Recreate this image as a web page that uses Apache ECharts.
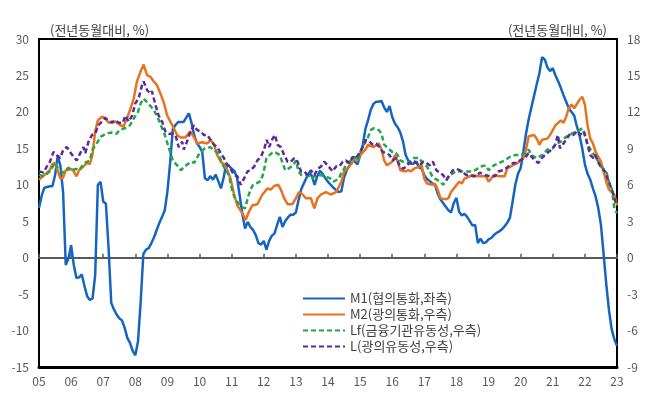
<!DOCTYPE html>
<html><head><meta charset="utf-8">
<script src="https://cdn.jsdelivr.net/npm/echarts/dist/echarts.min.js"></script>
<style>html,body{margin:0;padding:0;background:#fff}#c{width:658px;height:402px}</style>
</head><body><div id="c"></div>
<script>
// x: months since 2005-01 ; tick labels every 12 months
const xLabels = ['05','06','07','08','09','10','11','12','13','14','15','16','17','18','19','20','21','22','23'];
const seriesNames = ['M1(협의통화,좌측)','M2(광의통화,우측)','Lf(금융기관유동성,우측)','L(광의유동성,우측)'];
const unitLabel = '(전년동월대비, %)';

// M1, monthly values (left axis)
const m1 = [6.8,8.5,9.6,9.7,9.8,9.8,11.3,14.0,12.6,9.0,
-1.0,-0.1,1.7,-1.0,-2.8,-2.7,-2.3,-3.9,-5.3,-5.8,
-5.6,-2.4,10.0,10.4,7.7,7.4,1.3,-6.2,-7.1,-7.8,
-8.3,-8.6,-9.6,-11.0,-11.7,-12.8,-13.4,-11.5,-6.0,0.5,
1.1,1.3,2.0,2.8,3.8,4.8,5.6,6.5,9.1,13.0,
17.6,18.2,18.6,18.6,18.6,19.2,19.8,18.5,16.8,15.7,
15.2,14.5,10.9,10.6,11.2,10.7,11.4,10.5,9.5,11.0,
12.9,12.6,12.2,11.9,11.0,8.5,6.0,4.0,4.9,4.2,
3.8,3.1,2.0,1.8,2.3,1.1,2.3,3.0,3.3,4.5,
5.6,4.2,5.0,5.5,5.9,5.9,6.2,7.9,9.4,10.2,
11.0,11.7,11.2,10.0,11.2,11.9,11.5,10.9,10.4,10.0,
9.6,9.3,9.0,9.1,11.0,12.0,12.6,13.4,13.2,12.8,
14.0,15.5,17.7,18.9,20.3,21.1,21.4,21.4,21.5,20.6,
20.0,20.8,19.3,18.4,17.9,17.2,16.0,14.1,13.3,12.9,
12.9,13.2,12.4,12.2,11.3,10.8,10.5,10.2,10.0,8.8,
8.0,7.5,7.0,6.5,6.2,7.5,8.2,6.3,5.8,6.0,
5.6,5.0,4.4,4.5,2.0,2.6,2.0,2.1,2.5,2.7,
3.1,3.4,3.6,3.9,4.3,4.8,5.5,7.7,10.0,11.5,
12.3,14.5,17.0,19.0,20.6,22.2,23.8,25.3,27.5,27.2,
26.1,25.6,26.0,25.0,24.2,23.3,22.3,21.4,20.5,20.0,
19.5,18.0,16.8,15.0,12.8,11.5,10.7,9.5,8.4,6.8,
4.5,0.5,-3.7,-7.2,-9.8,-11.2,-12.1];

// M2 [month, value] (right axis)
const m2 = [[0,6.4],[2,6.8],[4,7.2],[5,7.7],[6,7.8],[8,6.5],[9,6.6],[10,7.2],[12,7.3],[13,7.1],[14,6.7],[15,7.2],[17,7.6],[18,7.8],[19,7.7],[20,8.5],[21,10.4],[22,11.3],[23.5,11.6],[24.7,11.5],[26,11.1],[27.3,11.2],[28.5,11.2],[30.4,10.9],[31.6,10.8],[32.9,11.5],[34.1,12.2],[35.4,13.1],[36.6,14.5],[37.9,15.3],[39.1,15.9],[40.4,15.0],[41.6,14.9],[42.9,14.5],[44.1,14.2],[45.4,13.5],[46.6,12.8],[47.9,11.7],[49.1,11.2],[50.4,10.65],[51.6,10.1],[52.9,9.9],
[54.7,9.9],[56.6,10.4],[57.9,9.9],[59.1,9.4],[61,9.5],[62.9,9.4],[64.1,9.7],[65.4,9.3],[66.6,8.45],[67.9,7.9],[69.7,7.6],[71.6,6.5],[72.9,5.2],[74.1,4.3],[76,3.65],[77.2,3.1],[78.5,3.8],[79.7,4.3],[81.6,4.4],[83.5,5.2],[85.4,5.7],[86.6,5.6],[87.9,5.9],[89.4,6.0],[90.4,5.6],[91.6,4.9],[92.9,4.4],[94.7,4.4],[96,4.9],[97.2,5.4],[98.5,5.2],[99.7,4.9],[101.6,4.9],[102.9,4.05],[104.1,4.9],[105.4,5.2],[107.2,5.4],
[109,5.2],[111,5.4],[113,6.25],[114,7.1],[115,7.3],[117,7.8],[118,8.3],[119,8.0],[120,8.45],[122,8.9],[123,9.3],[124,9.2],[125,9.1],[127,9.4],[128,8.9],[129,8.0],[130,7.6],[132,7.9],[133,8.45],[134,8.0],[135,7.2],[137,7.1],[138,7.2],[139,7.1],[140,7.3],[142,7.5],[143,7.6],[144,6.5],[145,6.1],[147,6.0],[148,6.1],[149,5.6],[150,4.9],[152,4.8],[153,4.9],[154,5.4],[155,5.7],[157,6.25],[158,6.1],[159,6.5],[160,6.6],[162,6.8],
[164,6.7],[167,6.7],[168,6.25],[170,6.8],[172,6.7],[174,6.7],[175,7.35],[177,7.6],[179,7.8],[181,8.2],[182,8.9],[183,10.0],[185,10.1],[186,9.8],[187,9.3],[188,9.7],[190,9.8],[191,10.1],[192,10.5],[193,10.9],[195,11.3],[196,11.1],[197,11.6],[198,12.3],[199,12.6],[200,12.3],[202,13.0],[203,13.25],[204,12.6],[205,10.9],[206,9.8],[207,9.4],[208,8.7],[210,7.9],[211,7.1],[212,6.25],[213,5.6],[215,5.2],[216,4.3]];

// Lf [month, value] (right axis)
const lf = [[0,6.8],[2,6.7],[4,7.1],[6,7.8],[7,7.4],[9,7.0],[10,7.2],[11,7.4],[12,7.2],[14,7.3],[15,7.2],[16,7.5],[17,7.8],[19,8.0],[20,8.9],[22,9.55],[23,9.95],[25,10.2],[27,10.3],[29,10.2],[30,10.5],[32,10.65],[34,10.9],[35,11.3],[37,12.0],[38,12.7],[39,13.1],[40,12.9],[42,12.4],[43,12.1],[44,11.7],[45,11.2],[47,10.1],[48,9.4],[49,8.7],[50,8.0],[52,7.5],[53,7.2],
[55,7.6],[57,7.9],[58,7.8],[60,8.6],[62,9.0],[64,9.1],[65,8.9],[67,8.6],[68,8.0],[69,7.5],[71,6.8],[72,5.7],[73,5.0],[75,4.3],[77,4.05],[78,4.9],[79,5.6],[80,6.0],[82,6.2],[83,6.35],[84,7.1],[85,8.2],[87,8.6],[88,8.7],[90,8.45],[91,7.8],[92,7.2],[93,7.3],[95,7.6],[96,8.0],[97,7.1],[98,6.8],[100,6.8],[101,6.7],[102,6.5],[103,6.7],[105,6.8],[107,6.7],
[109,6.5],[110,6.25],[112,6.5],[113,7.0],[114,7.3],[115,7.8],[117,8.0],[118,8.3],[119,8.0],[120,8.7],[122,9.55],[123,9.95],[124,10.5],[125,10.65],[127,10.5],[128,10.2],[129,9.3],[130,9.1],[132,8.7],[133,8.7],[134,8.45],[135,8.0],[137,7.8],[138,7.8],[139,8.0],[140,8.2],[142,8.2],[143,7.9],[145,7.5],[146,7.1],[147,6.7],[148,6.5],[150,6.25],[151,6.0],[152,6.25],[153,6.7],[155,7.0],[156,7.1],[157,7.1],[158,7.1],[160,7.1],[162,7.1],
[163,7.2],[165,7.5],[167,7.6],[168,7.2],[170,7.6],[172,7.8],[174,8.0],[176,8.3],[178,8.45],[180,8.45],[182,8.6],[183,8.9],[184,8.45],[186,8.2],[188,8.45],[190,8.9],[192,9.0],[193,9.3],[195,9.55],[197,9.95],[199,10.2],[200,10.3],[202,10.5],[203,10.65],[204,10.2],[205,9.3],[207,8.6],[208,8.3],[209,7.9],[210,7.5],[212,7.1],[213,6.25],[214,5.7],[215,4.05],[216,3.65]];

// L [month, value] (right axis)
const lL = [[0,7.1],[1.7,7.0],[2.9,7.5],[4.1,7.9],[5.4,8.7],[6.6,8.45],[7.9,8.2],[9.1,8.9],[10.4,9.1],[11.6,8.7],[12.9,8.3],[13.5,8.45],[14.1,8.0],[15.4,8.6],[16.6,9.1],[17.3,8.6],[18.5,9.55],[19.8,10.1],[21,10.2],[22.2,10.9],[23.5,11.2],[24.7,11.5],[26,11.3],[27.3,11.1],[28.5,11.3],[29.8,11.1],[31.3,11.1],[32.3,11.7],[33.5,11.2],[34.8,11.7],[36,12.7],[37.2,13.1],[38.5,14.2],[39.1,14.5],[40.4,13.8],[41.6,13.5],[42.2,13.7],[43.5,12.6],[44.7,11.7],[46,11.2],[47.2,10.4],[48.5,10.2],[49.7,10.2],[51,10.1],[52.2,9.1],[53.5,9.55],
[54.1,8.9],[55.4,9.6],[56.6,10.4],[57.9,10.9],[59.1,10.5],[60.4,10.4],[61.6,10.1],[62.9,10.1],[64.1,9.7],[65.4,9.3],[66.6,9.1],[67.9,8.6],[69.1,8.2],[70.4,7.6],[71.6,7.3],[72.9,6.8],[74.1,6.7],[75.4,6.0],[76.6,6.5],[77.9,7.1],[79.1,7.2],[80.4,7.5],[81.6,8.0],[82.9,8.3],[84.1,8.9],[85.1,9.7],[86,9.1],[87.3,9.8],[88.2,10.1],[89.1,9.3],[90.4,9.1],[91.6,8.45],[92.9,7.9],[94.1,7.9],[95.4,8.2],[96.6,7.9],[97.9,7.1],[99.1,7.1],[100.4,6.8],[101.6,7.2],[102.9,6.8],[104.1,7.3],[105.4,7.5],[106.6,7.9],[107.9,7.6],
[108.5,7.5],[109.7,7.1],[111,7.5],[112.2,7.5],[113.5,7.9],[114.7,8.0],[116,7.8],[117.2,8.3],[118.5,8.2],[119.7,8.6],[121,9.1],[122.2,9.7],[123.5,9.55],[124.7,9.3],[126,9.4],[127.2,9.1],[128.5,8.7],[129.7,8.6],[131,8.45],[132.2,8.0],[133.5,8.2],[134.7,7.6],[136,7.3],[137.2,7.5],[138.5,7.8],[139.7,8.0],[141,7.8],[142.3,7.6],[143.5,7.9],[144.7,7.8],[146,7.6],[147.2,7.9],[148.5,7.2],[149.7,7.0],[151,6.8],[152.2,6.4],[153.5,6.8],[154.7,7.2],[156,7.3],[157.2,7.2],[158.5,7.0],[159.7,6.8],[161,6.8],
[162.2,6.7],[163.5,6.7],[164.7,7.0],[166.6,6.8],[168.5,6.7],[170.4,6.7],[171.6,7.1],[173.5,7.2],[175.4,7.5],[177.2,7.8],[178.5,7.8],[179.7,8.0],[181.6,8.2],[182.9,8.6],[184.1,8.3],[185.4,8.0],[186.6,7.8],[187.9,8.2],[189.1,8.45],[190.4,8.7],[191.6,8.9],[192.9,9.3],[193.9,10.1],[194.7,9.0],[196,9.4],[197.2,9.8],[198.5,10.2],[199.7,10.1],[201,10.4],[202.2,10.1],[203.5,10.4],[204.7,9.55],[206,8.45],[207.2,8.2],[207.9,8.45],[209.1,7.8],[210.4,7.3],[211.6,7.1],[212.9,6.25],[214.1,5.6],[215.4,4.6],[216,4.3]];

const FONT = 'Noto Sans CJK KR';
const chart = echarts.init(document.getElementById('c'));
const lastMonth = (xLabels.length - 1) * 12;
chart.setOption({
  animation: false,
  textStyle: { fontFamily: FONT },
  title: [
    { text: unitLabel, left: 50, top: 24, padding: 0, textStyle: { fontSize: 13, fontWeight: 'normal', color: '#404040', fontFamily: FONT } },
    { text: unitLabel, right: 51, top: 24, padding: 0, textStyle: { fontSize: 13, fontWeight: 'normal', color: '#404040', fontFamily: FONT } }
  ],
  legend: {
    orient: 'vertical', left: 302, top: 292, padding: 0, itemGap: 3,
    itemWidth: 42, itemHeight: 10,
    itemStyle: { color: 'rgba(0,0,0,0)', borderWidth: 0, opacity: 0 },
    textStyle: { fontSize: 13, color: '#404040', fontFamily: FONT },
    data: seriesNames
  },
  grid: { left: 39, right: 41, top: 39, bottom: 35, show: true, borderColor: '#000', borderWidth: 2 },
  xAxis: [
    { type: 'value', min: 0, max: lastMonth, interval: 12, position: 'bottom',
      axisLine: { onZero: false, lineStyle: { color: '#000', width: 3 } },
      axisTick: { show: false }, splitLine: { show: false },
      axisLabel: { margin: 8, fontSize: 12, color: '#595959', formatter: v => (Number.isInteger(v / 12) ? xLabels[v / 12] : '') } },
    { type: 'value', min: 0, max: lastMonth, interval: 12, position: 'bottom',
      axisLine: { onZero: true, onZeroAxisIndex: 0, lineStyle: { color: '#595959', width: 2 } },
      axisTick: { show: true, inside: true, length: 4, lineStyle: { color: '#595959', width: 1.5 } },
      axisLabel: { show: false }, splitLine: { show: false } }
  ],
  yAxis: [
    { type: 'value', min: -15, max: 30, interval: 5, position: 'left',
      axisLine: { show: true, onZero: false, lineStyle: { color: '#000', width: 2 } },
      axisTick: { show: false }, splitLine: { show: false },
      axisLabel: { margin: 10, fontSize: 12, color: '#595959' } },
    { type: 'value', min: -9, max: 18, interval: 3, position: 'right',
      axisLine: { show: true, onZero: false, lineStyle: { color: '#000', width: 2 } },
      axisTick: { show: false }, splitLine: { show: false },
      axisLabel: { margin: 10, fontSize: 12, color: '#595959' } }
  ],
  series: [
    { name: seriesNames[0], type: 'line', xAxisIndex: 0, yAxisIndex: 0, symbol: 'none', z: 2,
      data: m1.map((v, i) => [i, v]), itemStyle: { color: '#1565C0' }, lineStyle: { color: '#1565C0', width: 2.5 } },
    { name: seriesNames[1], type: 'line', xAxisIndex: 0, yAxisIndex: 1, symbol: 'none', z: 3,
      data: m2, itemStyle: { color: '#E8731E' }, lineStyle: { color: '#E8731E', width: 2.5 } },
    { name: seriesNames[2], type: 'line', xAxisIndex: 0, yAxisIndex: 1, symbol: 'none', z: 4,
      data: lf, itemStyle: { color: '#22A84A' }, lineStyle: { color: '#22A84A', width: 2.5, type: [5, 3] } },
    { name: seriesNames[3], type: 'line', xAxisIndex: 0, yAxisIndex: 1, symbol: 'none', z: 5,
      data: lL, itemStyle: { color: '#5B2A9E' }, lineStyle: { color: '#5B2A9E', width: 2.5, type: [5, 3] } }
  ]
});
</script>
</body></html>
